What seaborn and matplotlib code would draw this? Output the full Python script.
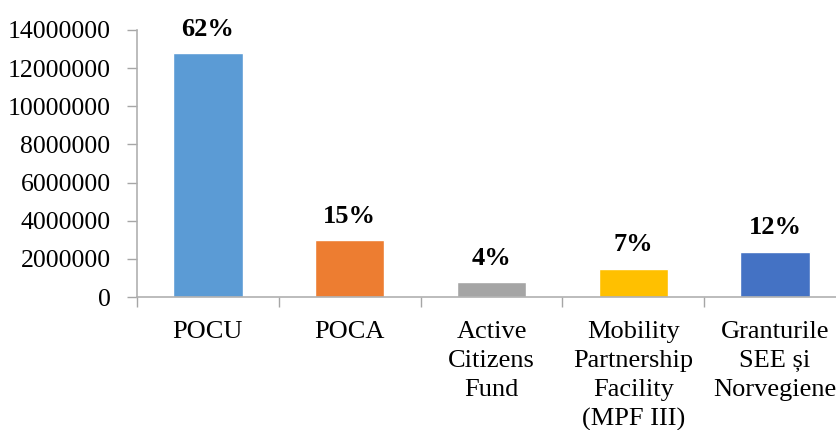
import pandas as pd
import matplotlib.pyplot as plt
import seaborn as sns

# Data
categories = ['POCU', 'POCA', 'Active\nCitizens\nFund',
              'Mobility\nPartnership\nFacility\n(MPF III)',
              'Granturile\nSEE și\nNorvegiene']
values = [12780000, 2970000, 780000, 1470000, 2380000]
percent_labels = ['62%', '15%', '4%', '7%', '12%']
colors = ['#5b9bd5', '#ed7d31', '#a5a5a5', '#ffc000', '#4472c4']
y_ticks = [0, 2000000, 4000000, 6000000, 8000000, 10000000, 12000000, 14000000]

df = pd.DataFrame({'Program': categories, 'Value': values})

sns.set_theme(style='white')
plt.rcParams['font.family'] = ['Liberation Serif', 'DejaVu Serif']
plt.rcParams['text.color'] = 'black'
plt.rcParams['xtick.color'] = 'black'
plt.rcParams['ytick.color'] = 'black'

fig = plt.figure(figsize=(8.36, 4.30), dpi=100)
ax = fig.add_axes([137 / 836, 133 / 430, 709 / 836, 267 / 430])

sns.barplot(data=df, x='Program', y='Value', hue='Program', palette=colors,
            legend=False, width=0.49, saturation=1, ax=ax)

# Percentage labels above bars
for i, (v, lab) in enumerate(zip(values, percent_labels)):
    ax.annotate(lab, (i, v), xytext=(0, 9), textcoords='offset points',
                ha='center', va='bottom', fontsize=19, fontweight='bold',
                color='black')

ax.set_ylim(0, 14000000)
ax.set_xlim(-0.5, len(categories) - 0.5)
ax.set_yticks(y_ticks)
ax.set_yticklabels([str(t) for t in y_ticks])
ax.set_xlabel('')
ax.set_ylabel('')

# Category ticks at the boundaries between bars, labels centred
ax.set_xticks([i - 0.5 for i in range(len(categories))], minor=False)
ax.set_xticklabels([])
ax.set_xticks(range(len(categories)), minor=True)
ax.set_xticklabels(categories, minor=True, fontsize=19, linespacing=1.42)
ax.tick_params(axis='x', which='minor', length=0, pad=17, labelcolor='black')
ax.tick_params(axis='x', which='major', length=7, width=1, color='#a6a6a6',
               direction='out', bottom=True)
ax.tick_params(axis='y', length=7, width=1, color='#a6a6a6', direction='out',
               left=True, labelsize=18.5, pad=12, labelcolor='black')

for side in ['top', 'right']:
    ax.spines[side].set_visible(False)
for side in ['left', 'bottom']:
    ax.spines[side].set_color('#b0b0b0')
    ax.spines[side].set_linewidth(1.2)

ax.grid(False)
fig.savefig('out.png', dpi=100)
